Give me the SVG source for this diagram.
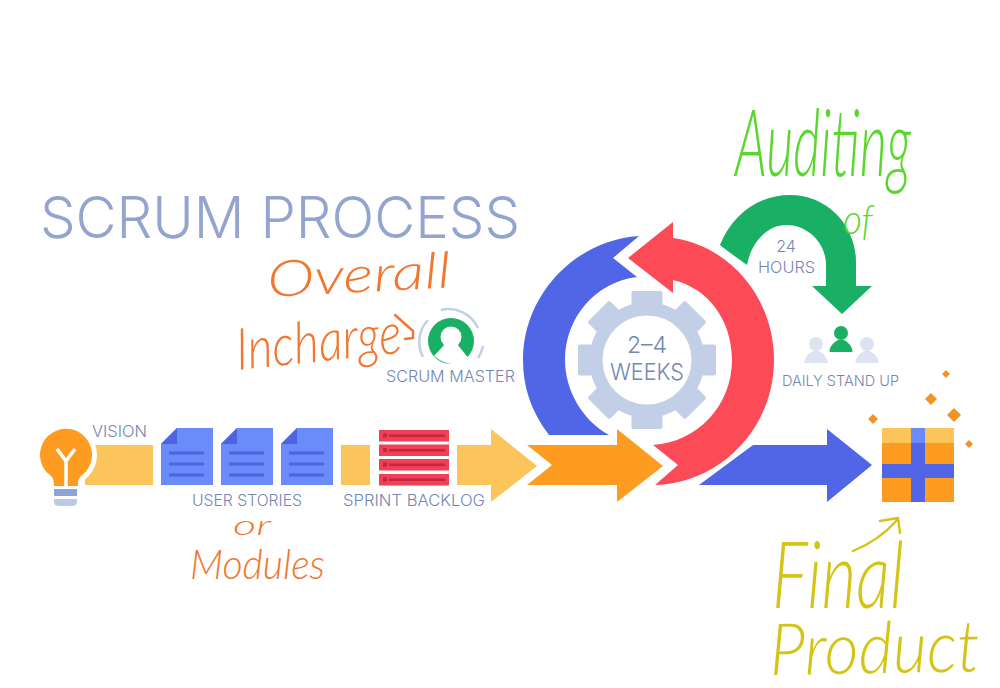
<svg xmlns="http://www.w3.org/2000/svg" width="1000" height="688" viewBox="0 0 1000 688">
<defs>
<style>
.lbl{font-family:"Inter","Liberation Sans",sans-serif;font-weight:300;fill:#7486b4}
.hand{font-family:"Lato","Liberation Sans",sans-serif;font-weight:300;font-style:italic}
.o{fill:#f2762e}.g{fill:#5bd62f}.y{fill:#d3c416}
.ink{fill:none;stroke-width:2.4;stroke-linecap:round;stroke-linejoin:round}
.doc{fill:#6a8cfb}.fold{fill:#4f63e0}.dl{stroke:#4f63e0;stroke-width:3}
.row{fill:#ef4155}.rl{stroke:#c9243f;stroke-width:2.5}.rd{fill:#c9243f}
.dia{fill:#f39324}.ghost{fill:#dde3f0}
.yel{fill:#fcc55c}
</style>
<g id="doc"><rect x="0" y="0" width="52" height="57" class="doc"/><path d="M0 0H16L0 16Z" fill="#fff"/><path d="M0 16L16 0V16Z" class="fold"/><path d="M8 25H43M8 36H43M8 47H43" class="dl"/></g>
<g id="row"><rect width="70" height="11.500" class="row"/><rect x="4" y="3.500" width="4" height="4" class="rd"/><path d="M10 5.700H66" class="rl"/></g>
<g id="person"><circle cx="0" cy="0" r="7"/><path d="M-11.500 19C-11.500 12-6 9-3 7H3C6 9 11.500 12 11.500 19Z"/></g>
<rect id="tooth" x="-15.500" y="-69" width="31" height="20" rx="2"/>
</defs>
<rect width="1000" height="688" fill="#fff"/>

<text id="title" x="40" y="238" font-family="Inter,'Liberation Sans',sans-serif" font-weight="300" font-size="58" fill="#93a5cf" textLength="480" lengthAdjust="spacingAndGlyphs">SCRUM PROCESS</text>

<g id="connectors">
<path id="flow-yellow" d="M457 445H491V429L537 466L491 502V485H457Z" class="yel"/>
<path id="flow-orange" d="M527 445H617V429L663 466L617 502V485H527L552 465Z" fill="#fd9c21"/>
<path id="flow-blue" d="M699 485L753 445H827V429L872 465L827 502V485Z" fill="#5166e6"/>
<path id="loop-blue" d="M549 435C530 410 523 385 523 360C523 295 575 240 639 236L613 258L637 277C595 282 565 318 565 360C565 390 582 420 609 435Z" fill="#5166e6"/>
<path id="loop-red" d="M628 258L673 222V238C730 246 774 298 774 360C774 430 718 484 655 485L678 465L653 445C698 442 732 405 732 360C732 320 708 288 673 280V293Z" fill="#fd4a57"/>
<path id="loop-green" d="M720 245C732 215 758 195 790 195C828 195 856 226 856 262V286H872L842 314L812 286H826V265C826 243 808 225 786 225C767 225 751 243 747 265C738 258 728 252 720 245Z" fill="#19b066"/>
</g>

<g id="sprint-gear">
<g transform="translate(647 360)" fill="#c3cfe6">
<circle r="51" fill="none" stroke="#c3cfe6" stroke-width="13"/>
<use href="#tooth"/><use href="#tooth" transform="rotate(45)"/><use href="#tooth" transform="rotate(90)"/><use href="#tooth" transform="rotate(135)"/><use href="#tooth" transform="rotate(180)"/><use href="#tooth" transform="rotate(225)"/><use href="#tooth" transform="rotate(270)"/><use href="#tooth" transform="rotate(315)"/>
</g>
<text x="647" y="353" text-anchor="middle" font-size="23" class="lbl">2–4</text>
<text x="610" y="380" font-size="23" class="lbl" textLength="74" lengthAdjust="spacingAndGlyphs">WEEKS</text>
</g>

<g id="daily-timer">
<text x="786" y="252" text-anchor="middle" font-size="16" class="lbl">24</text>
<text x="758" y="273" font-size="16" class="lbl" textLength="57" lengthAdjust="spacingAndGlyphs">HOURS</text>
</g>

<g id="daily-stand-up">
<use href="#person" x="816" y="344" class="ghost"/>
<use href="#person" x="867" y="344" class="ghost"/>
<use href="#person" x="841" y="333" fill="#19b066"/>
<text x="782" y="386" font-size="15" class="lbl" textLength="117" lengthAdjust="spacingAndGlyphs">DAILY STAND UP</text>
</g>

<g id="vision">
<rect x="85" y="445" width="68" height="40" class="yel"/>
<circle cx="66" cy="455" r="31" fill="#fff"/>
<path d="M58 476H74V487H58Z" fill="#fff" stroke="#fff" stroke-width="8"/>
<path d="M40 455A26 26 0 1 1 81 476C78 479 78 483 78 486H54C54 483 54 479 51 476A26 26 0 0 1 40 455Z" fill="#fd9c21"/>
<path d="M57 449L66 461L75 449M66 461V486" fill="none" stroke="#fff" stroke-width="3.500"/>
<rect x="54" y="489" width="23" height="7" fill="#8fa3d4"/>
<path d="M54 499H77V502Q77 506 72 506H59Q54 506 54 502Z" fill="#bccae6"/>
<text x="92" y="437" font-size="16" class="lbl" textLength="55" lengthAdjust="spacingAndGlyphs">VISION</text>
</g>

<g id="user-stories">
<use href="#doc" x="161" y="428"/>
<use href="#doc" x="221" y="428"/>
<use href="#doc" x="281" y="428"/>
<text x="192" y="506" font-size="15.500" class="lbl" textLength="110" lengthAdjust="spacingAndGlyphs">USER STORIES</text>
</g>

<g id="sprint-backlog">
<rect x="341" y="445" width="29" height="40" class="yel"/>
<use href="#row" x="379" y="430"/>
<use href="#row" x="379" y="444.500"/>
<use href="#row" x="379" y="459"/>
<use href="#row" x="379" y="474"/>
<text x="343" y="506" font-size="15.500" class="lbl" textLength="142" lengthAdjust="spacingAndGlyphs">SPRINT BACKLOG</text>
</g>

<g id="scrum-master">
<path d="M423 357A32 32 0 0 1 428 320M441 310A32 32 0 0 1 478 328M483 346A32 32 0 0 1 478 358" fill="none" stroke="#c3cfe6" stroke-width="2.500"/>
<circle cx="451" cy="341" r="23" fill="#19b066"/>
<circle cx="451" cy="337" r="10.500" fill="#fff"/>
<path d="M445 344L434 356Q451 370 470 360L457 344Z" fill="#fff"/>
<text x="386" y="382" font-size="15.500" class="lbl" textLength="129" lengthAdjust="spacingAndGlyphs">SCRUM MASTER</text>
</g>

<g id="final-product">
<rect x="882" y="428" width="72" height="74" fill="#fd9c21"/>
<rect x="882" y="428" width="72" height="15" class="yel"/>
<rect x="911" y="428" width="14" height="74" fill="#5166e6"/>
<rect x="911" y="428" width="14" height="15" fill="#6a8cfb"/>
<rect x="882" y="464" width="72" height="14" fill="#5166e6"/>
<path d="M946 370l4 4-4 4-4-4Z" class="dia"/>
<path d="M931 393l6 6-6 6-6-6Z" class="dia"/>
<path d="M954 408l7 7-7 7-7-7Z" class="dia"/>
<path d="M873 414l5 5-5 5-5-5Z" class="dia"/>
<path d="M969 440l4 4-4 4-4-4Z" class="dia"/>
</g>

<g id="annotation-overall-incharge">
<text class="hand o" font-size="50" transform="translate(268 297) rotate(-3)" textLength="184" lengthAdjust="spacingAndGlyphs">Overall</text>
<text class="hand o" font-size="58" transform="translate(238 370) rotate(-6)" textLength="166" lengthAdjust="spacingAndGlyphs">Incharge</text>
<path class="ink" stroke="#f2762e" d="M395 315L413 331V338L405 339"/>
</g>
<g id="annotation-modules">
<text class="hand o" font-size="27" x="233" y="535" textLength="38" lengthAdjust="spacingAndGlyphs">or</text>
<text class="hand o" font-size="42" x="190" y="579" textLength="135" lengthAdjust="spacingAndGlyphs">Modules</text>
</g>
<g id="annotation-auditing">
<text class="hand g" font-size="92" x="735" y="176" textLength="176" lengthAdjust="spacingAndGlyphs">Auditing</text>
<text class="hand g" font-size="42" x="843" y="234" textLength="30" lengthAdjust="spacingAndGlyphs">of</text>
</g>
<g id="annotation-final-product">
<path class="ink" stroke="#d3c416" d="M853 551Q880 540 898 519M880 521L898 518L900 533"/>
<text class="hand y" font-size="92" x="772" y="608" textLength="132" lengthAdjust="spacingAndGlyphs">Final</text>
<text class="hand y" font-size="72" transform="translate(770 675) rotate(-1)" textLength="210" lengthAdjust="spacingAndGlyphs">Product</text>
</g>
</svg>
